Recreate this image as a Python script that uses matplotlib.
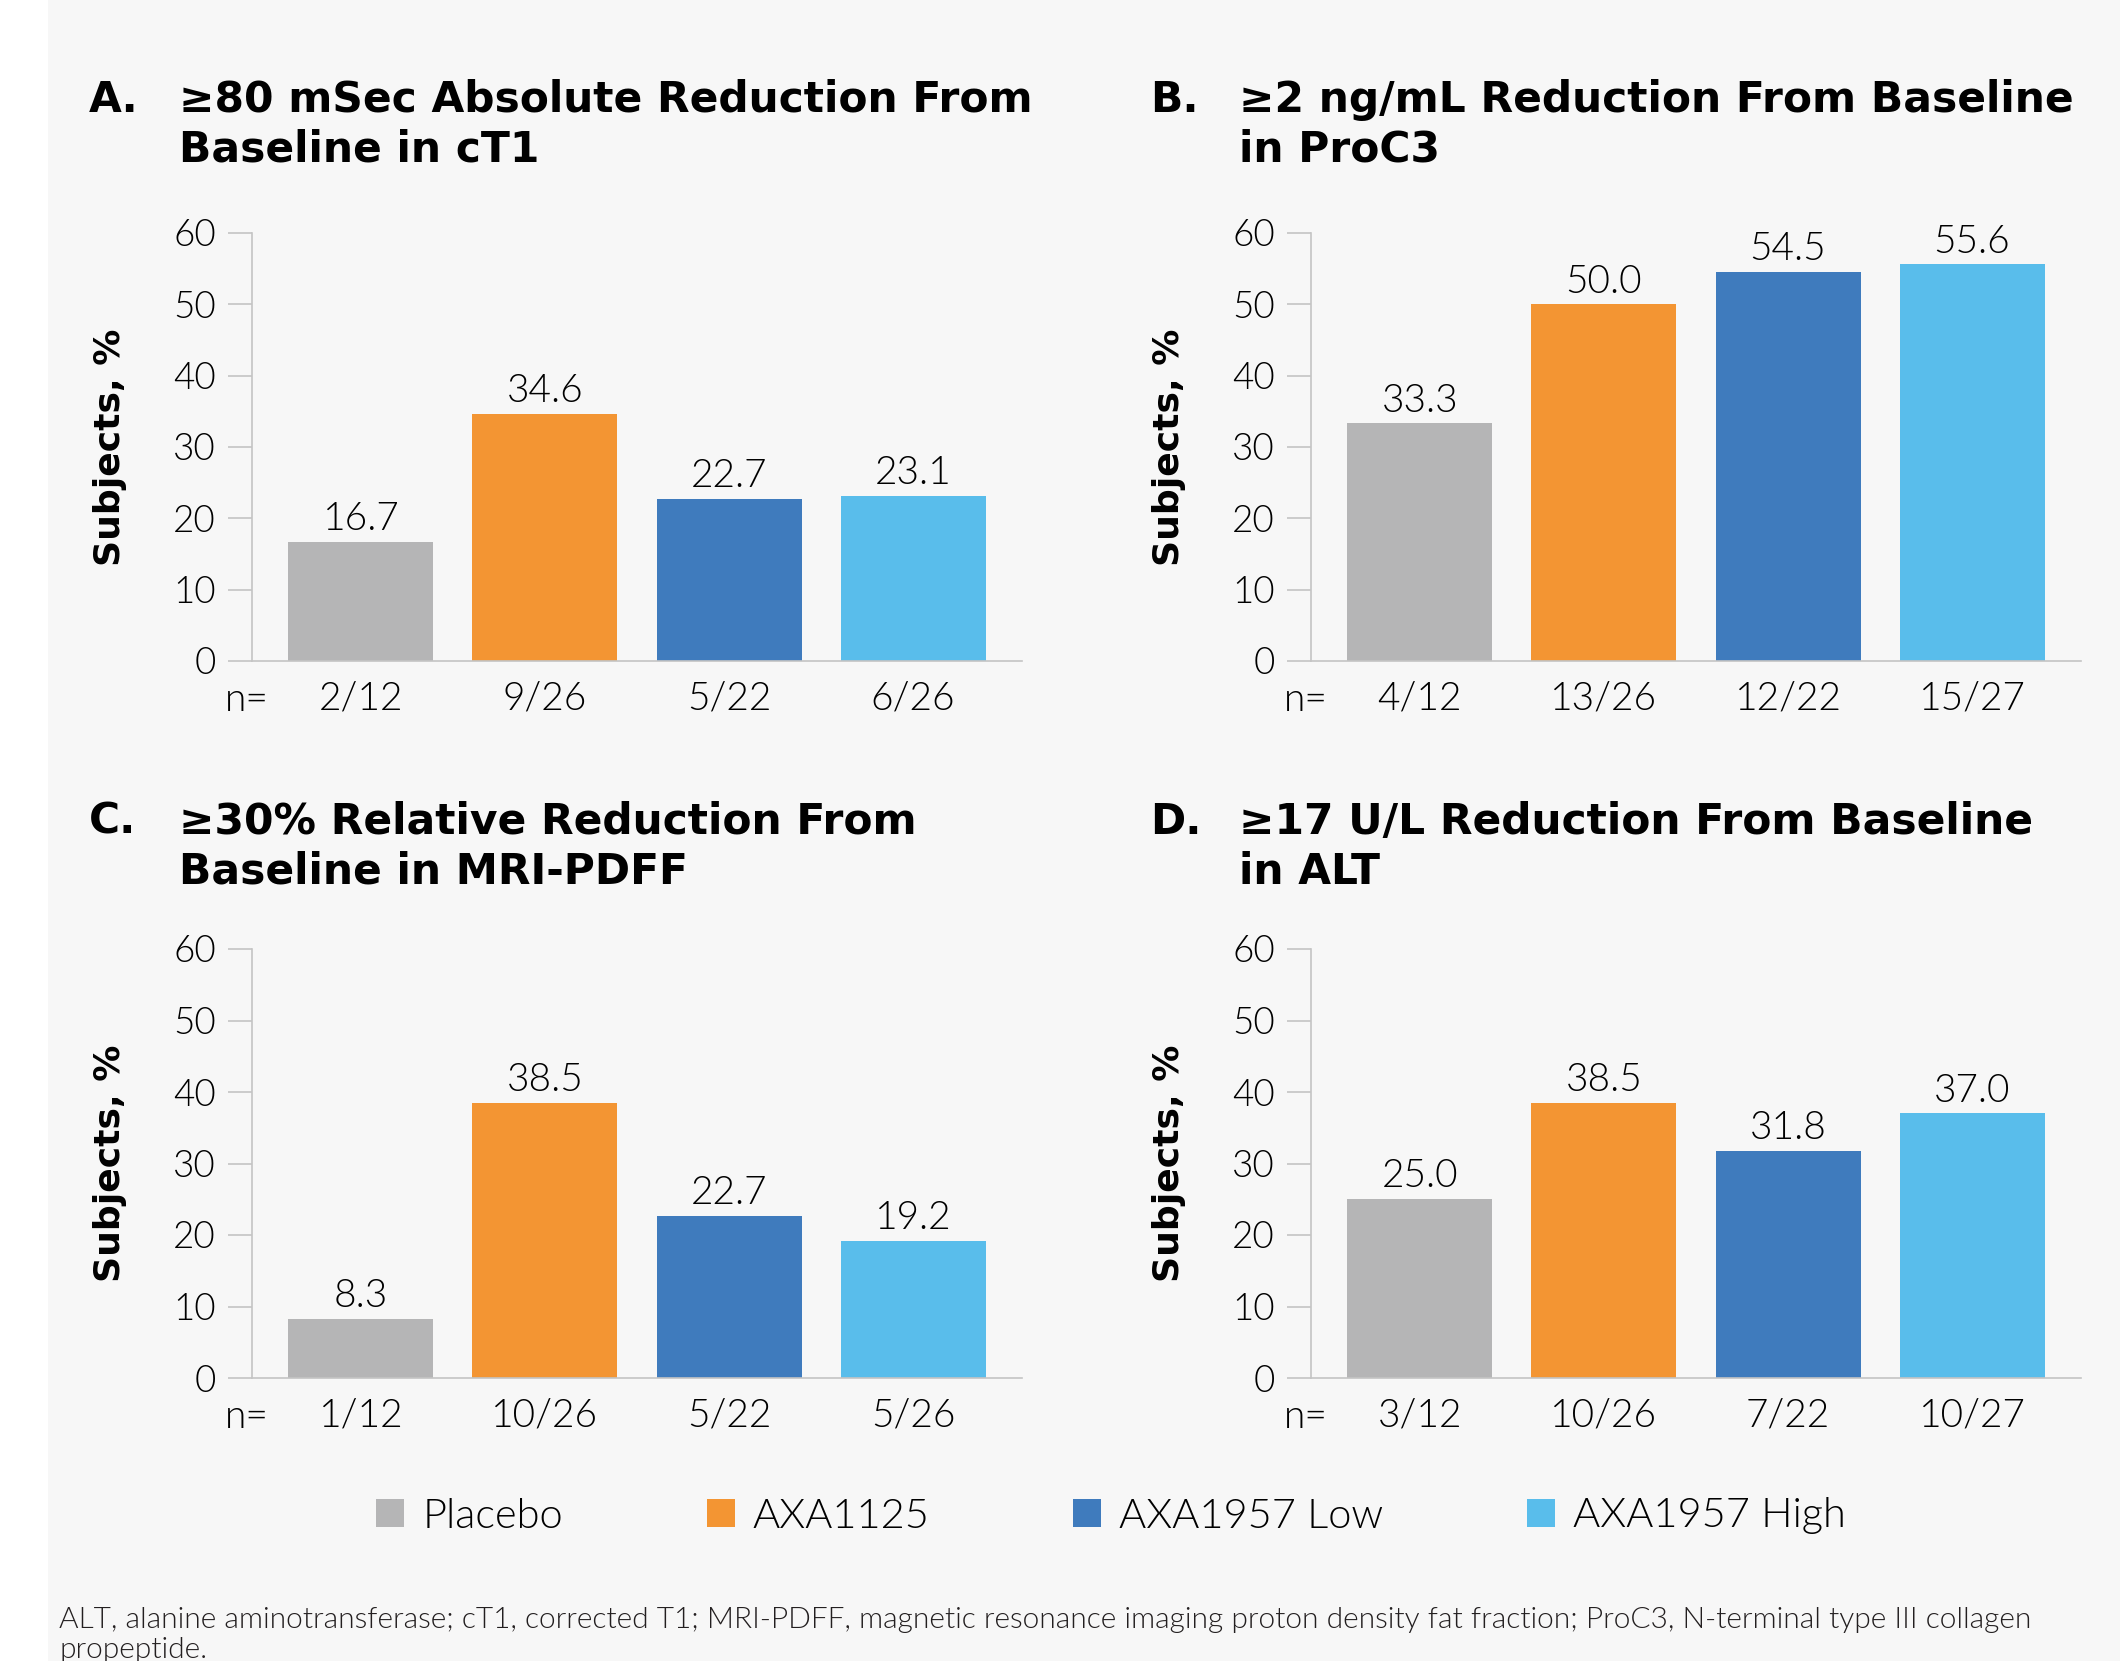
"""Four-panel bar chart of responder rates (percent of subjects)"""

import matplotlib.pyplot as plt
from matplotlib.patches import Patch, Rectangle

plt.rcParams["font.family"] = ["Lato", "DejaVu Sans"]

# data
groups = ["Placebo", "AXA1125", "AXA1957 Low", "AXA1957 High"]
colors = ["#b5b5b6", "#f39533", "#3f7bbd", "#59bdeb"]

letters = ["A.", "B.", "C.", "D."]
titles = [
    ["\u226580 mSec Absolute Reduction From", "Baseline in cT1"],
    ["\u22652 ng/mL Reduction From Baseline", "in ProC3"],
    ["\u226530% Relative Reduction From", "Baseline in MRI-PDFF"],
    ["\u226517 U/L Reduction From Baseline", "in ALT"],
]
pct_a = [16.7, 34.6, 22.7, 23.1]
pct_b = [33.3, 50.0, 54.5, 55.6]
pct_c = [8.3, 38.5, 22.7, 19.2]
pct_d = [25.0, 38.5, 31.8, 37.0]
n_a = ["2/12", "9/26", "5/22", "6/26"]
n_b = ["4/12", "13/26", "12/22", "15/27"]
n_c = ["1/12", "10/26", "5/22", "5/26"]
n_d = ["3/12", "10/26", "7/22", "10/27"]
yticks = [0, 10, 20, 30, 40, 50, 60]

footnote = [
    "ALT, alanine aminotransferase; cT1, corrected T1; MRI-PDFF, magnetic resonance "
    "imaging proton density fat fraction; ProC3, N-terminal type III collagen",
    "propeptide.",
]

LIGHT = 300
BOLD_FONT = ["DejaVu Sans"]

W, H = 2120, 1661
fig = plt.figure(figsize=(W / 100, H / 100), dpi=100)
fig.patch.set_facecolor("white")
fig.patches.append(Rectangle((48 / W, 0), 1 - 48 / W, 1, transform=fig.transFigure,
                             facecolor="#f7f7f7", edgecolor="none", zorder=-10))


def fx(px):
    return px / W


def fy(py):
    return 1 - py / H


# panel layout in pixels: spine x, title letter x, title text x, axes top, axes bottom, title baseline
panels = [
    (252, 89, 179, 233, 661, 112),
    (1311, 1150, 1239, 233, 661, 112),
    (252, 89, 179, 949, 1378, 834),
    (1311, 1150, 1239, 949, 1378, 834),
]
values = [pct_a, pct_b, pct_c, pct_d]
ns = [n_a, n_b, n_c, n_d]
axis_w = 770

for i, (sx, lx, tx, top, bot, tb) in enumerate(panels):
    ax = fig.add_axes([fx(sx), fy(bot), axis_w / W, (bot - top) / H])
    ax.set_facecolor("none")
    x = range(len(groups))
    ax.bar(x, values[i], width=0.788, color=colors)
    for xi, v in zip(x, values[i]):
        ax.annotate(f"{v:.1f}", (xi, v), xytext=(0, 8.5), textcoords="offset points",
                    ha="center", va="baseline", fontsize=28, fontweight=LIGHT)
    ax.set_xlim(-0.592, 3.592)
    ax.set_ylim(0, 60)
    ax.set_yticks(yticks)
    ax.set_yticklabels([str(t) for t in yticks], fontsize=26.5, fontweight=LIGHT)
    ax.set_xticks(list(x))
    ax.set_xticklabels(ns[i], fontsize=28, fontweight=LIGHT)
    ax.tick_params(axis="y", length=17, width=1.2, color="#c4c4c4", pad=9)
    ax.tick_params(axis="x", length=0, pad=14)
    for s in ["top", "right"]:
        ax.spines[s].set_visible(False)
    for s in ["left", "bottom"]:
        ax.spines[s].set_color("#c4c4c4")
        ax.spines[s].set_linewidth(1.2)
    ax.annotate("n=", (0, 0), xycoords="axes fraction", xytext=(-4, -36),
                textcoords="offset points", ha="center", va="baseline",
                fontsize=28, fontweight=LIGHT)
    ax.set_ylabel("Subjects, %", fontsize=26, fontweight="bold", family=BOLD_FONT)
    ax.yaxis.set_label_coords(-0.162, 0.5)

    fig.text(fx(lx), fy(tb), letters[i], fontsize=30.5, fontweight="bold",
             family=BOLD_FONT, va="baseline")
    for j, line in enumerate(titles[i]):
        fig.text(fx(tx), fy(tb + 50 * j), line, fontsize=30.5, fontweight="bold",
                 family=BOLD_FONT, va="baseline")

handles = [Patch(facecolor=c, edgecolor="none") for c in colors]
fig.legend(handles, groups, loc="center", bbox_to_anchor=(fx(1111), fy(1516)),
           ncol=4, frameon=False, prop={"size": 30, "weight": LIGHT},
           handlelength=0.67, handleheight=0.67, handletextpad=0.43, columnspacing=3.45)

for j, line in enumerate(footnote):
    fig.text(fx(59), fy(1628 + 30 * j), line, fontsize=21.5, fontweight=LIGHT,
             color="#231f20", va="baseline")

fig.savefig("out.png", dpi=100)
